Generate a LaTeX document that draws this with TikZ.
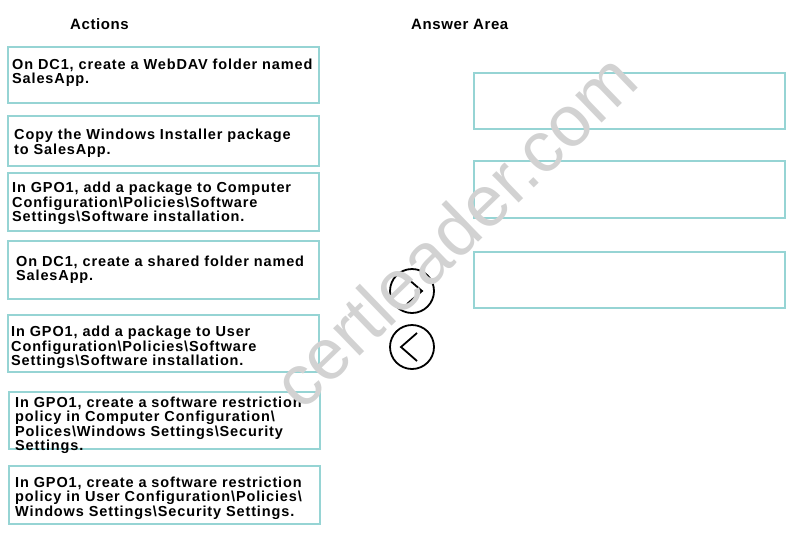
\documentclass[tikz,border=0pt]{standalone}
\usepackage{fontspec}
\setmainfont{Liberation Sans}
\newfontfamily\boxfont[LetterSpace=6]{Liberation Sans Bold}
\newfontfamily\headfont[LetterSpace=4]{Liberation Sans Bold}
\newfontfamily\wmfont{Liberation Sans}
\definecolor{boxline}{RGB}{150,212,212}
\definecolor{wmgray}{RGB}{210,210,210}
\tikzset{
  actbox/.style={draw=boxline, line width=1.6pt},
  acttext/.style={anchor=north west, inner sep=0pt, align=left,
    font={\boxfont\fontsize{14.5}{12.5}\selectfont}},
  headtext/.style={anchor=base west, inner sep=0pt,
    font={\headfont\fontsize{15}{15}\selectfont}},
  navcircle/.style={draw=black, line width=1.8pt, circle, minimum size=44pt, inner sep=0pt},
  chev/.style={draw=black, line width=1.8pt, line join=miter},
}
\begin{document}
\begin{tikzpicture}[x=1pt,y=-1pt]
\useasboundingbox (0,0) rectangle (802,541);
\fill[white] (0,0) rectangle (802,541);

% headings
\node[headtext] (hact) at (70,29) {Actions};
\node[headtext] (hans) at (411,29) {Answer Area};

% action boxes
\draw[actbox] (8,47) rectangle (319,103);
\draw[actbox] (8,116) rectangle (319,166);
\draw[actbox] (8,173) rectangle (319,231);
\draw[actbox] (8,241) rectangle (319,299);
\draw[actbox] (8,315) rectangle (319,372);
\draw[actbox] (9,392) rectangle (320,449);
\draw[actbox] (9,466) rectangle (320,524);

\node[acttext] (a1) at (12,59) {On DC1, create a WebDAV folder named\\SalesApp.};
\node[acttext] (a2) at (14,129) {Copy the Windows Installer package\\to SalesApp.};
\node[acttext] (a3) at (12,182) {In GPO1, add a package to Computer\\Configuration\textbackslash Policies\textbackslash Software\\Settings\textbackslash Software installation.};
\node[acttext] (a4) at (16,256) {On DC1, create a shared folder named\\SalesApp.};
\node[acttext] (a5) at (11,326) {In GPO1, add a package to User\\Configuration\textbackslash Policies\textbackslash Software\\Settings\textbackslash Software installation.};
\node[acttext] (a6) at (15,397) {In GPO1, create a software restriction\\policy in Computer Configuration\textbackslash\\Polices\textbackslash Windows Settings\textbackslash Security\\Settings.};
\node[acttext] (a7) at (15,477) {In GPO1, create a software restriction\\policy in User Configuration\textbackslash Policies\textbackslash\\Windows Settings\textbackslash Security Settings.};

% answer boxes
\draw[actbox] (474,73) rectangle (785,129);
\draw[actbox] (474,161) rectangle (785,218);
\draw[actbox] (474,252) rectangle (785,308);

% navigation buttons
\node[navcircle] (right) at (412,291) {};
\node[navcircle] (left) at (412,347) {};
\draw[chev] (407,278) -- (422,291) -- (407,304);
\draw[chev] (417,333) -- (401,347) -- (417,361);

% watermark
\node[text=wmgray, font={\wmfont\fontsize{72}{72}\selectfont}, rotate=44, inner sep=0pt] (wm) at (454,230) {certleader.com};
\end{tikzpicture}
\end{document}
